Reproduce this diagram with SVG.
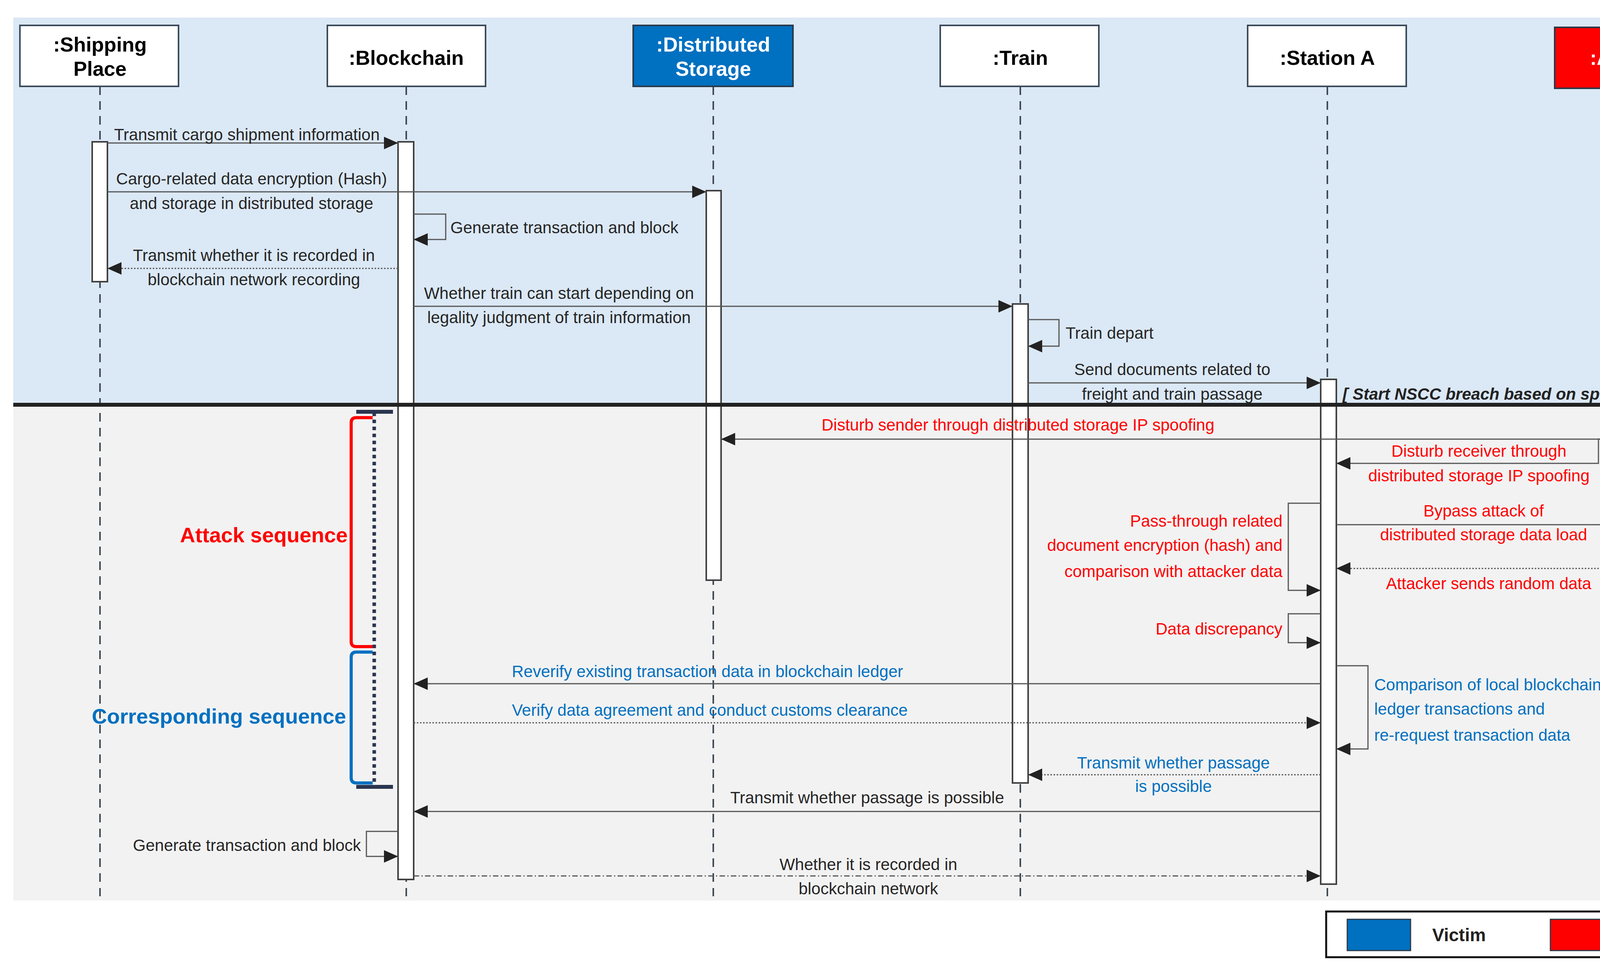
<svg xmlns="http://www.w3.org/2000/svg" width="4451" height="2493" viewBox="0 0 4451 2493">
<style>
text{font-family:"Liberation Sans",Arial,sans-serif;dominant-baseline:central}
.t{font-size:42px;fill:#262626}
.r{font-size:42px;fill:#ff0000}
.b{font-size:42px;fill:#0070c0}
.h{font-size:52px;font-weight:bold;text-anchor:middle}
.m{text-anchor:middle}
.e{text-anchor:end}
.hb{fill:#fff;stroke:#3a4a5a;stroke-width:4}
.ll{stroke:#404a56;stroke-width:4;stroke-dasharray:22 16;fill:none}
.act{fill:#fff;stroke:#404040;stroke-width:4}
.msg{stroke:#555;stroke-width:3;fill:none}
.dot{stroke:#555;stroke-width:3;fill:none;stroke-dasharray:4 4}
.dd{stroke:#555;stroke-width:3;fill:none;stroke-dasharray:14 6 3 6}
</style>
<defs>
<marker id="a" viewBox="0 0 10 10" refX="10" refY="5" markerWidth="10" markerHeight="10" markerUnits="userSpaceOnUse" orient="auto" overflow="visible"><path d="M-26,-11 L10,5 L-26,21 Z" transform="scale(1)" fill="#222"/></marker>
</defs>
<rect x="34" y="45" width="4375" height="991" fill="#dbe8f5"/>
<rect x="34" y="1036" width="4375" height="1269" fill="#f2f2f2"/>

<g id="lifelines">
<line class="ll" x1="256" y1="221" x2="256" y2="2294"/>
<line class="ll" x1="1040" y1="221" x2="1040" y2="2294"/>
<line class="ll" x1="1826" y1="221" x2="1826" y2="2294"/>
<line class="ll" x1="2612" y1="221" x2="2612" y2="2294"/>
<line class="ll" x1="3398" y1="221" x2="3398" y2="2294"/>
<line class="ll" x1="4182" y1="221" x2="4182" y2="2294"/>
</g>

<g id="shipping"><rect class="hb" x="51" y="65" width="406" height="156"/><text class="h" x="256" y="114">:Shipping</text><text class="h" x="256" y="176">Place</text></g>
<g id="blockchain"><rect class="hb" x="838" y="65" width="405" height="156"/><text class="h" x="1040" y="148">:Blockchain</text></g>
<g id="storage"><rect x="1621" y="65" width="409" height="156" fill="#0070c0" stroke="#2a3a4a" stroke-width="4"/><text class="h" x="1826" y="114" fill="#fff">:Distributed</text><text class="h" x="1826" y="176" fill="#fff">Storage</text></g>
<g id="train"><rect class="hb" x="2407" y="65" width="406" height="156"/><text class="h" x="2612" y="148">:Train</text></g>
<g id="stationA"><rect class="hb" x="3194" y="65" width="406" height="156"/><text class="h" x="3398" y="148">:Station A</text></g>
<g id="attacker"><rect x="3980" y="70" width="406" height="156" fill="#ff0000" stroke="#2a3a4a" stroke-width="4"/><text class="h" x="4183" y="148" fill="#fff">:Attacker</text></g>

<g id="activations">
<rect class="act" x="236" y="363" width="39" height="358"/>
<rect class="act" x="1019" y="363" width="40" height="1888"/>
<rect class="act" x="1808" y="488" width="38" height="997"/>
<rect class="act" x="2592" y="778" width="40" height="1226"/>
<rect class="act" x="3381" y="971" width="40" height="1292"/>
<rect class="act" x="4165" y="1073" width="40" height="483"/>
</g>

<line x1="34" y1="1036" x2="4409" y2="1036" stroke="#222" stroke-width="10"/>

<g id="connectors">
<line class="msg" x1="275" y1="366" x2="1019" y2="366" marker-end="url(#a)"/>
<line class="msg" x1="275" y1="491" x2="1808" y2="491" marker-end="url(#a)"/>
<polyline class="msg" points="1059,548 1141,548 1141,613 1059,613" marker-end="url(#a)"/>
<line class="dot" x1="1019" y1="687" x2="275" y2="687" marker-end="url(#a)"/>
<line class="msg" x1="1059" y1="784" x2="2592" y2="784" marker-end="url(#a)"/>
<polyline class="msg" points="2632,818 2711,818 2711,886 2632,886" marker-end="url(#a)"/>
<line class="msg" x1="2632" y1="980" x2="3381" y2="980" marker-end="url(#a)"/>
<line class="msg" x1="4165" y1="1124" x2="1846" y2="1124" marker-end="url(#a)"/>
<polyline class="msg" points="4165,1124 4092,1124 4092,1186 3421,1186" marker-end="url(#a)"/>
<line class="msg" x1="3421" y1="1343" x2="4165" y2="1343" marker-end="url(#a)"/>
<line class="dot" x1="4165" y1="1455" x2="3421" y2="1455" marker-end="url(#a)"/>
<polyline class="msg" points="3381,1288 3298,1288 3298,1511 3381,1511" marker-end="url(#a)"/>
<polyline class="msg" points="3381,1571 3298,1571 3298,1645 3381,1645" marker-end="url(#a)"/>
<polyline class="msg" points="3421,1704 3502,1704 3502,1917 3421,1917" marker-end="url(#a)"/>
<line class="msg" x1="3381" y1="1750" x2="1059" y2="1750" marker-end="url(#a)"/>
<line class="dot" x1="1059" y1="1850" x2="3381" y2="1850" marker-end="url(#a)"/>
<line class="dot" x1="3381" y1="1983" x2="2632" y2="1983" marker-end="url(#a)"/>
<line class="msg" x1="3381" y1="2077" x2="1059" y2="2077" marker-end="url(#a)"/>
<polyline class="msg" points="1019,2128 938,2128 938,2192 1019,2192" marker-end="url(#a)"/>
<line class="dd" x1="1059" y1="2242" x2="3381" y2="2242" marker-end="url(#a)"/>
</g>

<g id="labels">
<text class="t m" x="632" y="344">Transmit cargo shipment information</text>
<text class="t m" x="644" y="457">Cargo-related data encryption (Hash)</text>
<text class="t m" x="644" y="520">and storage in distributed storage</text>
<text class="t" x="1153" y="582">Generate transaction and block</text>
<text class="t m" x="650" y="653">Transmit whether it is recorded in</text>
<text class="t m" x="650" y="715">blockchain network recording</text>
<text class="t m" x="1431" y="750">Whether train can start depending on</text>
<text class="t m" x="1431" y="812">legality judgment of train information</text>
<text class="t" x="2728" y="852">Train depart</text>
<text class="t m" x="3001" y="945">Send documents related to</text>
<text class="t m" x="3001" y="1008">freight and train passage</text>
<text x="3437" y="1008" font-size="42" font-weight="bold" font-style="italic" fill="#222">[ Start NSCC breach based on spoofing attack ]</text>
<text class="r m" x="2606" y="1087">Disturb sender through distributed storage IP spoofing</text>
<text class="r m" x="3786" y="1154">Disturb receiver through</text>
<text class="r m" x="3786" y="1217">distributed storage IP spoofing</text>
<text class="r m" x="3798" y="1307">Bypass attack of</text>
<text class="r m" x="3798" y="1368">distributed storage data load</text>
<text class="r m" x="3811" y="1493">Attacker sends random data</text>
<text class="r e" x="3283" y="1333">Pass-through related</text>
<text class="r e" x="3283" y="1395">document encryption (hash) and</text>
<text class="r e" x="3283" y="1462">comparison with attacker data</text>
<text class="r e" x="3283" y="1609">Data discrepancy</text>
<text class="b" x="3518" y="1752">Comparison of local blockchain</text>
<text class="b" x="3518" y="1814">ledger transactions and</text>
<text class="b" x="3518" y="1881">re-request transaction data</text>
<text class="b m" x="1811" y="1718">Reverify existing transaction data in blockchain ledger</text>
<text class="b m" x="1817" y="1817">Verify data agreement and conduct customs clearance</text>
<text class="b m" x="3004" y="1952">Transmit whether passage</text>
<text class="b m" x="3004" y="2012">is possible</text>
<text class="t m" x="2220" y="2041">Transmit whether passage is possible</text>
<text class="t e" x="924" y="2163">Generate transaction and block</text>
<text class="t m" x="2223" y="2212">Whether it is recorded in</text>
<text class="t m" x="2223" y="2274">blockchain network</text>
</g>

<g id="sequences">
<line x1="958" y1="1056" x2="958" y2="2010" stroke="#2a3550" stroke-width="9" stroke-dasharray="9 9"/>
<line x1="912" y1="1054" x2="1006" y2="1054" stroke="#2a3550" stroke-width="10"/>
<line x1="912" y1="2014" x2="1006" y2="2014" stroke="#2a3550" stroke-width="10"/>
<path d="M954,1069 L912,1069 Q899,1069 899,1082 L899,1642 Q899,1655 912,1655 L954,1655" fill="none" stroke="#ff0000" stroke-width="8"/>
<path d="M954,1669 L912,1669 Q899,1669 899,1682 L899,1991 Q899,2004 912,2004 L954,2004" fill="none" stroke="#0070c0" stroke-width="8"/>
<text class="e" x="890" y="1369" font-size="54" font-weight="bold" fill="#ff0000">Attack sequence</text>
<text class="e" x="886" y="1833" font-size="54" font-weight="bold" fill="#0070c0">Corresponding sequence</text>
</g>

<g id="legend">
<rect x="3395" y="2333" width="1014" height="117" fill="#fff" stroke="#111" stroke-width="5"/>
<rect x="3449" y="2353" width="162" height="80" fill="#0070c0" stroke="#2a3a4a" stroke-width="3"/>
<text x="3735" y="2393" font-size="46" font-weight="bold" fill="#222" text-anchor="middle">Victim</text>
<rect x="3969" y="2353" width="162" height="80" fill="#ff0000" stroke="#2a3a4a" stroke-width="3"/>
<text x="4270" y="2393" font-size="46" font-weight="bold" fill="#222" text-anchor="middle">Attacker</text>
</g>
</svg>
